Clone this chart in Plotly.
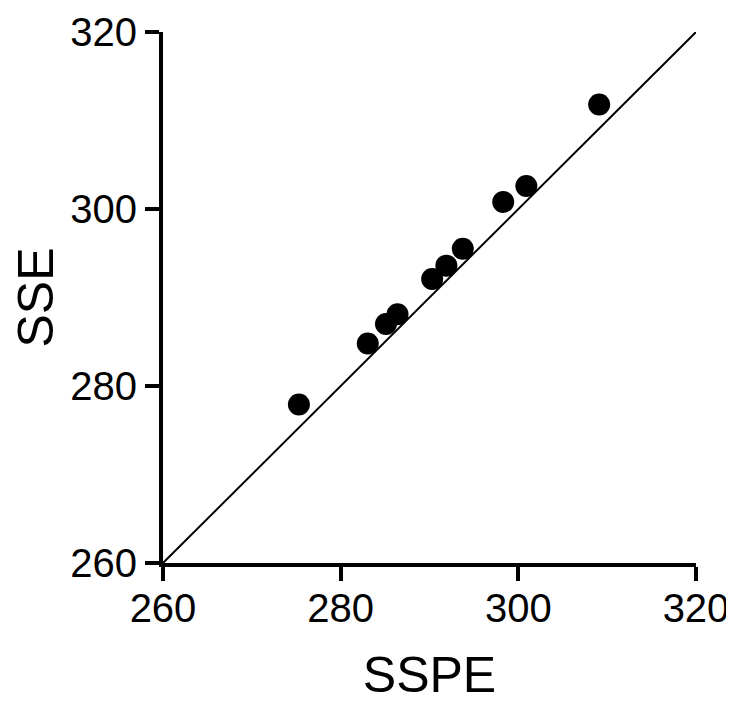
import plotly.graph_objects as go

sspe = [275.3, 283.05, 285.1, 286.4, 290.3, 291.9, 293.75, 298.3, 300.9, 309.1]
sse = [277.9, 284.8, 287.0, 288.1, 292.1, 293.6, 295.5, 300.8, 302.6, 311.8]
identity = [260, 320]
tick_vals = [260, 280, 300, 320]

fig = go.Figure()
fig.add_trace(go.Scatter(x=identity, y=identity, mode="lines",
                         line=dict(color="black", width=2), showlegend=False))
fig.add_trace(go.Scatter(x=sspe, y=sse, mode="markers",
                         marker=dict(color="black", size=22), showlegend=False,
                         cliponaxis=False))

axis_common = dict(
    range=[260, 320], tickvals=tick_vals, showgrid=False, zeroline=False,
    showline=True, linecolor="black", linewidth=4, automargin=False,
    ticks="outside", ticklen=14, tickwidth=4, tickcolor="black",
    tickfont=dict(family="Liberation Sans, Arial", size=40, color="black"),
)
fig.update_xaxes(**axis_common, ticklabelstandoff=-7,
                 title=dict(text="SSPE", font=dict(family="Liberation Sans, Arial", size=50, color="black"), standoff=53))
fig.update_yaxes(**axis_common,
                 title=dict(text="SSE", font=dict(family="Liberation Sans, Arial", size=50, color="black"), standoff=15))

fig.update_layout(
    width=726, height=695,
    margin=dict(l=155, r=38, t=24, b=140),
    plot_bgcolor="white", paper_bgcolor="white",
)
fig.write_html("out.html")
